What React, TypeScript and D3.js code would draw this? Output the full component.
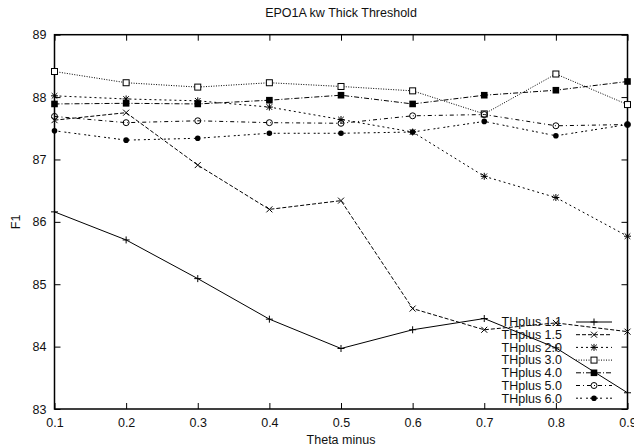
import React, { useEffect, useRef } from "react";
import * as d3 from "d3";

// values
const thetaMinus = [0.1, 0.2, 0.3, 0.4, 0.5, 0.6, 0.7, 0.8, 0.9];
const thplus11 = [86.16, 85.71, 85.09, 84.44, 83.97, 84.27, 84.45, 83.98, 83.26];
const thplus15 = [87.63, 87.75, 86.91, 86.2, 86.34, 84.61, 84.27, 84.38, 84.24];
const thplus20 = [88.02, 87.97, 87.94, 87.84, 87.64, 87.44, 86.73, 86.39, 85.77];
const thplus30 = [88.41, 88.23, 88.16, 88.23, 88.17, 88.1, 87.73, 88.37, 87.88];
const thplus40 = [87.89, 87.9, 87.89, 87.95, 88.03, 87.89, 88.03, 88.11, 88.25];
const thplus50 = [87.69, 87.59, 87.62, 87.59, 87.58, 87.7, 87.72, 87.54, 87.56];
const thplus60 = [87.46, 87.31, 87.34, 87.42, 87.42, 87.44, 87.61, 87.38, 87.56];
const seriesNames = ["THplus 1.1", "THplus 1.5", "THplus 2.0", "THplus 3.0", "THplus 4.0", "THplus 5.0", "THplus 6.0"];
const yTicks = [83, 84, 85, 86, 87, 88, 89];

const series = [thplus11, thplus15, thplus20, thplus30, thplus40, thplus50, thplus60];
const dashes = ["none", "4,2", "2,3", "1,1.5", "5,2,1,2", "4,3,1,3", "2,2,2,4"];
const markers = ["plus", "cross", "star", "square", "fsquare", "circle", "fcircle"];

const W = 634;
const H = 447;
const left = 54.5, right = 627.5, top = 34.7, bottom = 409;
const FONT = "'Liberation Sans', Arial, Helvetica, sans-serif";
const FS = 12.5;

function drawMarker(g: any, kind: string, x: number, y: number) {
  const s = 3.5;
  if (kind === "plus") {
    g.append("path").attr("d", `M${x - s},${y}H${x + s}M${x},${y - s}V${y + s}`).attr("stroke", "#000").attr("stroke-width", 1);
  } else if (kind === "cross") {
    const c = 3;
    g.append("path").attr("d", `M${x - c},${y - c}L${x + c},${y + c}M${x - c},${y + c}L${x + c},${y - c}`).attr("stroke", "#000").attr("stroke-width", 1);
  } else if (kind === "star") {
    const c = 2.8;
    g.append("path")
      .attr("d", `M${x - s},${y}H${x + s}M${x},${y - s}V${y + s}M${x - c},${y - c}L${x + c},${y + c}M${x - c},${y + c}L${x + c},${y - c}`)
      .attr("stroke", "#000").attr("stroke-width", 1);
  } else if (kind === "square") {
    g.append("rect").attr("x", x - 3).attr("y", y - 3).attr("width", 6).attr("height", 6).attr("fill", "#fff").attr("stroke", "#000").attr("stroke-width", 1);
  } else if (kind === "fsquare") {
    g.append("rect").attr("x", x - 3.3).attr("y", y - 3.3).attr("width", 6.6).attr("height", 6.6).attr("fill", "#000");
  } else if (kind === "circle") {
    g.append("circle").attr("cx", x).attr("cy", y).attr("r", 3).attr("fill", "none").attr("stroke", "#000").attr("stroke-width", 1);
  } else {
    g.append("circle").attr("cx", x).attr("cy", y).attr("r", 2.8).attr("fill", "#000");
  }
}

export default function App() {
  const ref = useRef<SVGSVGElement>(null);

  useEffect(() => {
    const svg = d3.select(ref.current);
    svg.selectAll("*").remove();

    const x = d3.scaleLinear().domain([0.1, 0.9]).range([left, right]);
    const y = d3.scaleLinear().domain([83, 89]).range([bottom, top]);

    // axes with inward ticks, mirrored on top/right
    const fmtX = d3.format(".1f");
    const axB = svg.append("g").attr("transform", `translate(0,${bottom})`)
      .call(d3.axisBottom(x).tickValues(thetaMinus).tickFormat((d: any) => fmtX(d)).tickSize(-6).tickPadding(9));
    const axT = svg.append("g").attr("transform", `translate(0,${top})`)
      .call(d3.axisTop(x).tickValues(thetaMinus).tickFormat(() => "").tickSize(-6));
    const axL = svg.append("g").attr("transform", `translate(${left},0)`)
      .call(d3.axisLeft(y).tickValues(yTicks).tickFormat(d3.format("d")).tickSize(-6).tickPadding(8));
    const axR = svg.append("g").attr("transform", `translate(${right},0)`)
      .call(d3.axisRight(y).tickValues(yTicks).tickFormat(() => "").tickSize(-6));
    [axB, axT, axL, axR].forEach((a) => {
      a.select(".domain").remove();
      a.selectAll("line").attr("stroke", "#000");
      a.selectAll("text").attr("font-family", FONT).attr("font-size", FS).attr("fill", "#111");
    });

    svg.append("rect")
      .attr("x", left).attr("y", top).attr("width", right - left).attr("height", bottom - top)
      .attr("fill", "none").attr("stroke", "#000").attr("stroke-width", 1.5);

    const line = d3.line<number>().x((_, i) => x(thetaMinus[i])).y((d) => y(d));
    const plot = svg.append("g");
    series.forEach((vals, k) => {
      plot.append("path").datum(vals).attr("d", line)
        .attr("fill", "none").attr("stroke", "#000").attr("stroke-width", 1)
        .attr("stroke-dasharray", dashes[k]);
      vals.forEach((v, i) => drawMarker(plot, markers[k], x(thetaMinus[i]), y(v)));
    });

    // legend
    const lg = svg.append("g");
    seriesNames.forEach((name, k) => {
      const ly = 322 + k * 12.7;
      lg.append("text").attr("x", 562).attr("y", ly).attr("dy", "0.35em")
        .attr("text-anchor", "end").attr("font-family", FONT).attr("font-size", FS).attr("fill", "#111")
        .text(name);
      lg.append("line").attr("x1", 576).attr("x2", 612).attr("y1", ly).attr("y2", ly)
        .attr("stroke", "#000").attr("stroke-width", 1).attr("stroke-dasharray", dashes[k]);
      drawMarker(lg, markers[k], 594, ly);
    });

    svg.append("text").attr("x", (left + right) / 2).attr("y", 13).attr("dy", "0.35em")
      .attr("text-anchor", "middle").attr("font-family", FONT).attr("font-size", FS).attr("fill", "#111")
      .text("EPO1A kw Thick Threshold");
    svg.append("text").attr("x", (left + right) / 2).attr("y", 440).attr("dy", "0.35em")
      .attr("text-anchor", "middle").attr("font-family", FONT).attr("font-size", FS).attr("fill", "#111")
      .text("Theta minus");
    svg.append("text").attr("transform", `translate(16,${(top + bottom) / 2}) rotate(-90)`).attr("dy", "0.35em")
      .attr("text-anchor", "middle").attr("font-family", FONT).attr("font-size", FS).attr("fill", "#111")
      .text("F1");
  }, []);

  return (
    <svg
      ref={ref}
      width={W}
      height={H}
      style={{ position: "absolute", left: 0, top: 0, background: "#fff" }}
    />
  );
}
